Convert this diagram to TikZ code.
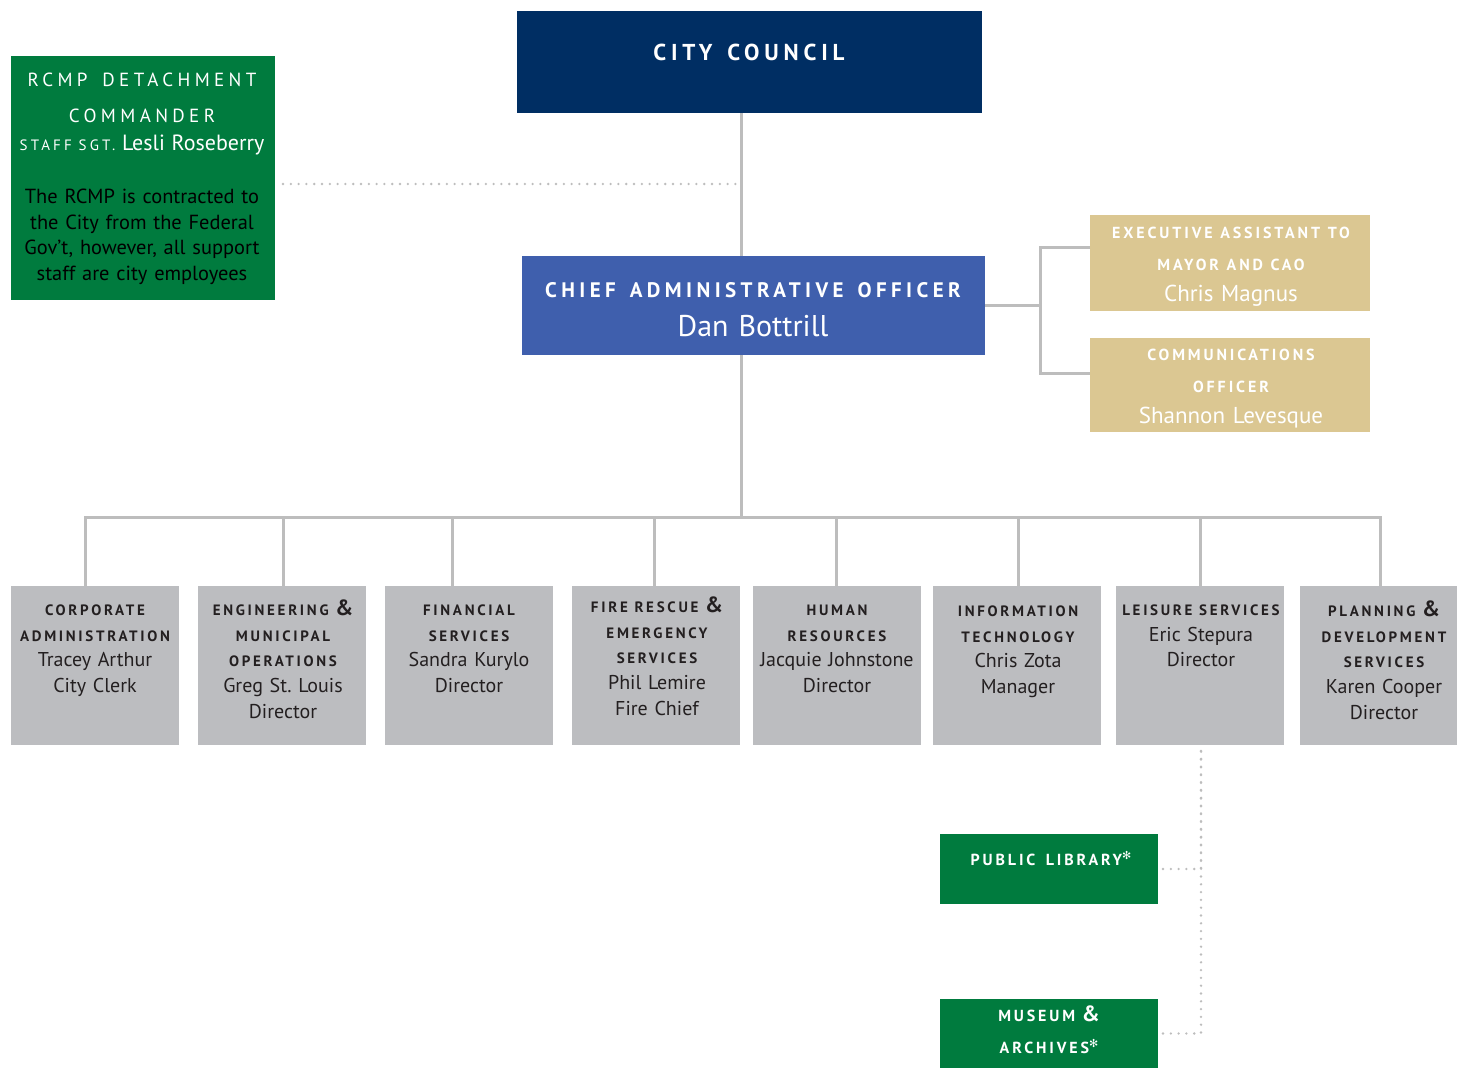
\documentclass[tikz,border=0pt]{standalone}
\usepackage{fontspec}
\setmainfont{PT Sans}
\newfontfamily\spaced[LetterSpace=18, WordSpace=1.5]{PT Sans}
\newfontfamily\bigspaced[LetterSpace=21, WordSpace=1.4]{PT Sans}
\newfontfamily\rcmpspaced[LetterSpace=23, WordSpace=1.8]{PT Sans}
\newfontfamily\symfont{DejaVu Sans}
\usetikzlibrary{positioning}
\definecolor{navy}{HTML}{002E63}
\definecolor{caoblue}{HTML}{3F5FAD}
\definecolor{rcmpgreen}{HTML}{007B3E}
\definecolor{tan}{HTML}{DBC792}
\definecolor{deptgray}{HTML}{BCBDC0}
\definecolor{linegray}{HTML}{BDBDBD}
\definecolor{ink}{HTML}{231F20}
\frenchspacing

% header lines in spaced bold caps
\newcommand{\hd}[1]{{\spaced\bfseries\fontsize{15}{25.6}\selectfont #1}}
\newcommand{\hdl}[1]{{\spaced\bfseries\fontsize{16}{25.6}\selectfont #1}}
\newcommand{\amp}{{\fontsize{22}{25.6}\selectfont\&}}
\newcommand{\flw}{\raisebox{6pt}{\symfont\fontsize{11}{11}\selectfont ✻}}

\begin{document}
\begin{tikzpicture}[x=1pt,y=-1pt,
    every node/.style={inner sep=0pt, outer sep=0pt},
    box/.style={rectangle, anchor=north west},
    dept/.style={box, fill=deptgray, minimum width=168, minimum height=159},
    depttext/.style={anchor=north, text width=166, align=center, text=ink,
      font=\fontsize{20}{25.6}\selectfont},
    toptext/.style={anchor=north, align=center, text=white},
    link/.style={draw=linegray, line width=3pt},
    dots/.style={draw=linegray, line width=2.6pt, line cap=round,
      dash pattern=on 0pt off 7.8pt}]

    \fill[white] (0,0) rectangle (1457,1068);
    \useasboundingbox (0,0) rectangle (1457,1068);

    % Council and CAO
    \node[box, fill=navy, minimum width=465, minimum height=102] (council) at (517,11) {};
    \node[text=white, font=\bigspaced\bfseries\fontsize{23}{25}\selectfont]
        (counciltxt) at (749,52) {CITY COUNCIL};

    \node[box, fill=caoblue, minimum width=463, minimum height=99] (cao) at (522,256) {};
    \node[toptext, text width=460, font=\fontsize{30}{39}\selectfont] (caotxt) at (753,282.5)
        {{\bigspaced\bfseries\fontsize{21}{39}\selectfont CHIEF\hspace{4pt} ADMINISTRATIVE\hspace{4pt} OFFICER}\\
         Dan Bottrill};

    % RCMP
    \node[box, fill=rcmpgreen, minimum width=264, minimum height=244] (rcmp) at (11,56) {};
    \node[toptext, text width=300, font=\fontsize{20.4}{25.4}\selectfont] (rcmptxt) at (142,73)
        {{\rcmpspaced\fontsize{19}{25.4}\selectfont RCMP\hspace{8pt} DETACHMENT}\\[10.6pt]
         {\rcmpspaced\fontsize{19}{25.4}\selectfont COMMANDER}\\[2.6pt]
         {\bigspaced\fontsize{15}{25.4}\selectfont STAFF SGT.}{\fontsize{22}{25.4}\selectfont~Lesli Roseberry}\\[28pt]
         {\color{black}The RCMP is contracted to}\\
         {\color{black}the City from the Federal}\\
         {\color{black}Gov’t, however, all support}\\
         {\color{black}staff are city employees}};

    % Staff to the CAO
    \node[box, fill=tan, minimum width=280, minimum height=96] (exec) at (1090,215) {};
    \node[toptext, text width=278, font=\fontsize{23}{31.5}\selectfont] (exectxt) at (1231,227.5)
        {\hdl{EXECUTIVE ASSISTANT TO}\\ \hdl{MAYOR AND CAO}\\ Chris Magnus};
    \node[box, fill=tan, minimum width=280, minimum height=94] (comms) at (1090,338) {};
    \node[toptext, text width=278, font=\fontsize{23}{31.5}\selectfont] (commstxt) at (1231,349.5)
        {\hdl{COMMUNICATIONS}\\ \hdl{OFFICER}\\ Shannon Levesque};

    % Departments
    \node[dept] (corp) at (11,586) {};
    \node[dept] (eng) at (198,586) {};
    \node[dept] (fin) at (385,586) {};
    \node[dept] (fire) at (572,586) {};
    \node[dept] (hr) at (753,586) {};
    \node[dept] (it) at (933,586) {};
    \node[dept] (leis) at (1116,586) {};
    \node[dept, minimum width=157] (plan) at (1300,586) {};

    \node[depttext] (corptxt) at (95,605)
        {\hd{CORPORATE}\\ \hd{ADMINISTRATION}\\ Tracey Arthur\\ City Clerk};
    \node[depttext] (engtxt) at (283,600)
        {\hd{ENGINEERING \amp}\\ \hd{MUNICIPAL}\\ \hd{OPERATIONS}\\ Greg St. Louis\\ Director};
    \node[depttext] (fintxt) at (469,605)
        {\hd{FINANCIAL}\\ \hd{SERVICES}\\ Sandra Kurylo\\ Director};
    \node[depttext] (firetxt) at (657,597)
        {\hd{FIRE RESCUE \amp}\\ \hd{EMERGENCY}\\ \hd{SERVICES}\\ Phil Lemire\\ Fire Chief};
    \node[depttext] (hrtxt) at (837,605)
        {\hd{HUMAN}\\ \hd{RESOURCES}\\ Jacquie Johnstone\\ Director};
    \node[depttext] (ittxt) at (1018,606)
        {\hd{INFORMATION}\\ \hd{TECHNOLOGY}\\ Chris Zota\\ Manager};
    \node[depttext] (leistxt) at (1201,605)
        {\hd{LEISURE SERVICES}\\ Eric Stepura\\ Director};
    \node[depttext] (plantxt) at (1384,601)
        {\hd{PLANNING \amp}\\ \hd{DEVELOPMENT}\\ \hd{SERVICES}\\ Karen Cooper\\ Director};

    % Library and museum
    \node[box, fill=rcmpgreen, minimum width=218, minimum height=70] (lib) at (940,834) {};
    \node[toptext] (libtxt) at (1051,851) {\hdl{PUBLIC LIBRARY}\flw};
    \node[box, fill=rcmpgreen, minimum width=218, minimum height=69] (museum) at (940,999) {};
    \node[toptext, text width=216, font=\fontsize{20}{25.6}\selectfont] (museumtxt) at (1049,1006)
        {\hdl{MUSEUM \amp}\\[6.4pt] \hdl{ARCHIVES}\flw};

    % Lines
    \coordinate (spine) at (741,0);
    \coordinate (bus) at (741,517);
    \coordinate (brk) at (1040,305.5);
    \draw[link] (council.south -| spine) -- (cao.north -| spine);
    \draw[link] (cao.south -| spine) -- (bus);
    \draw[link] (cao.east) -- (brk);
    \draw[link] ([yshift=16]exec.west) -| (brk) |- ([yshift=12]comms.west);
    \draw[link] ([xshift=-10]corp.north) |- (bus) -| ([xshift=1.5]plan.north);
    \foreach \n/\s in {eng/1, fin/-17, fire/-2, hr/-1, it/1, leis/0}
        \draw[link] ([xshift=\s]\n.north) -- ([xshift=\s]\n.north |- bus);

    \draw[dots] ([xshift=8,yshift=-6]rcmp.east) -- ([yshift=-6]rcmp.east -| spine);
    \draw[dots] ([xshift=5]lib.east) -| ([xshift=1]leis.south);
    \draw[dots] ([xshift=5]museum.east) -| ([xshift=1]leis.south);
\end{tikzpicture}
\end{document}
